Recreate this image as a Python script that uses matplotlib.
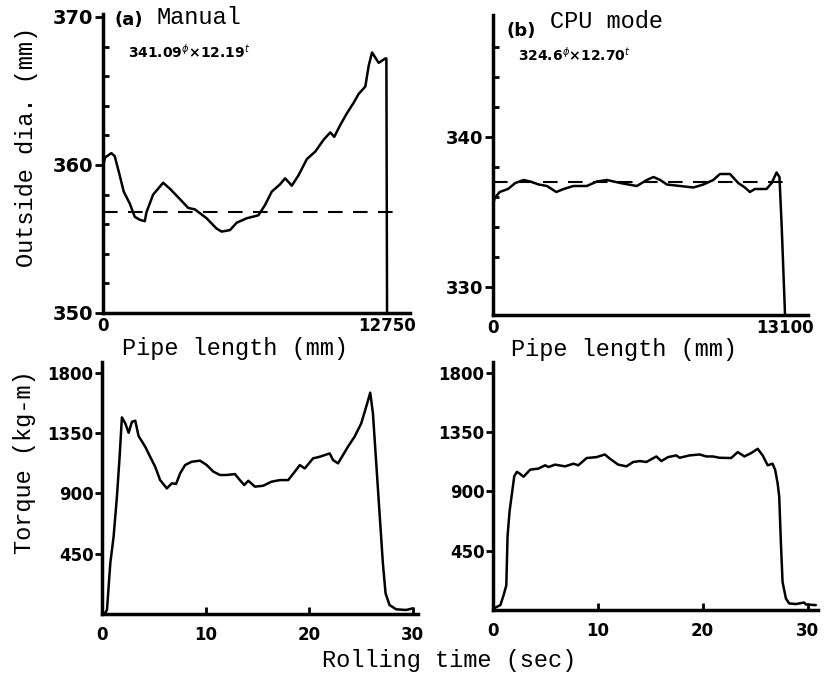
import matplotlib.pyplot as plt
from matplotlib.ticker import MultipleLocator, FixedLocator

# --- data ---
# (a) manual: outside diameter vs pipe length
manual_len = [0, 90, 375, 525, 750, 930, 1200, 1425, 1650, 1875, 1950, 2250, 2700, 3000,
              3450, 3825, 4125, 4650, 5100, 5325, 5700, 6000, 6450, 6975, 7275, 7575,
              7950, 8175, 8475, 8775, 9150, 9525, 9900, 10200, 10380, 10650, 10950,
              11250, 11475, 11775, 11925, 12075, 12375, 12675, 12720, 12750]
manual_dia = [359.9, 360.5, 360.8, 360.6, 359.3, 358.2, 357.4, 356.5, 356.3, 356.2, 356.8,
              358.0, 358.8, 358.4, 357.7, 357.1, 357.0, 356.4, 355.7, 355.5, 355.6, 356.1,
              356.4, 356.6, 357.3, 358.2, 358.7, 359.1, 358.6, 359.3, 360.4, 360.9, 361.7,
              362.2, 361.9, 362.7, 363.5, 364.2, 364.8, 365.3, 366.7, 367.6, 366.9, 367.2,
              367.2, 350.0]
manual_mean = 356.8

# (b) CPU mode: outside diameter vs pipe length
cpu_len = [0, 75, 300, 670, 1000, 1375, 1670, 2050, 2420, 2840, 3170, 3610, 4210, 4660,
           5110, 5710, 6450, 6900, 7200, 7500, 7800, 8390, 8990, 9440, 9880, 10180, 10630,
           11000, 11300, 11520, 11750, 12270, 12500, 12720, 12850, 12950, 13100]
cpu_dia = [335.4, 335.9, 336.3, 336.5, 336.9, 337.1, 337.0, 336.8, 336.7, 336.3, 336.5,
           336.7, 336.7, 337.0, 337.1, 336.9, 336.7, 337.1, 337.3, 337.1, 336.8, 336.7,
           336.6, 336.8, 337.1, 337.5, 337.5, 336.9, 336.6, 336.3, 336.5, 336.5, 336.9,
           337.6, 337.3, 334.0, 328.1]
cpu_mean = 337.0

# (a) manual: torque vs rolling time
manual_t = [0, 0.06, 0.32, 0.48, 0.80, 1.12, 1.44, 1.70, 1.92, 2.25, 2.57, 2.89, 3.21, 3.53,
            4.17, 4.65, 5.13, 5.61, 6.26, 6.74, 7.15, 7.54, 8.02, 8.66, 9.46, 10.11, 10.75,
            11.39, 12.03, 12.83, 13.31, 13.73, 14.12, 14.76, 15.56, 16.36, 17.16, 17.97,
            18.61, 19.09, 19.57, 20.37, 21.01, 21.98, 22.30, 22.78, 23.26, 23.74, 24.38,
            25.02, 25.5, 25.89, 26.15, 26.47, 26.79, 27.11, 27.37, 27.75, 28.39, 29.35, 29.99]
manual_torque = [0, 0, 10, 30, 378, 577, 875, 1173, 1467, 1422, 1352, 1434, 1442, 1328,
                 1248, 1173, 1099, 999, 937, 975, 970, 1049, 1111, 1136, 1144, 1111, 1062,
                 1037, 1037, 1044, 999, 962, 994, 950, 957, 987, 999, 999, 1062, 1111, 1086,
                 1161, 1173, 1198, 1148, 1124, 1186, 1248, 1323, 1422, 1546, 1651, 1497,
                 1124, 751, 378, 154, 67, 35, 30, 42]

# (b) CPU mode: torque vs rolling time
cpu_t = [0, 0.06, 0.70, 1.01, 1.27, 1.39, 1.58, 1.81, 2.03, 2.28, 2.53, 2.91, 3.55, 4.34,
         4.97, 5.29, 5.92, 6.87, 7.67, 8.14, 8.93, 9.88, 10.67, 11.15, 11.94, 12.73, 13.37,
         14.0, 14.63, 15.58, 16.06, 16.69, 17.48, 17.8, 18.75, 19.70, 20.34, 20.97, 21.6,
         22.71, 23.35, 23.98, 24.61, 25.25, 25.72, 26.2, 26.67, 26.92, 27.15, 27.3, 27.46,
         27.62, 27.94, 28.25, 28.89, 29.68, 29.84, 30.79]
cpu_torque = [0, 12, 37, 112, 187, 561, 748, 885, 1015, 1047, 1035, 1010, 1064, 1072, 1097,
              1084, 1102, 1089, 1109, 1097, 1152, 1159, 1179, 1147, 1102, 1089, 1122, 1129,
              1122, 1164, 1129, 1159, 1172, 1154, 1172, 1179, 1164, 1164, 1154, 1152, 1197,
              1164, 1189, 1222, 1172, 1097, 1109, 1060, 960, 860, 511, 212, 87, 50, 45, 57,
              42, 37]

W, H = 831, 679
fig = plt.figure(figsize=(W / 100, H / 100), dpi=100)

mono = 'Liberation Mono'
line_kw = dict(color='black', lw=1.8, solid_joinstyle='round', solid_capstyle='round')


def add_axes_px(x0, x1, y0, y1):
    ax = fig.add_axes([x0 / W, 1 - y1 / H, (x1 - x0) / W, (y1 - y0) / H])
    for s in ['top', 'right']:
        ax.spines[s].set_visible(False)
    for s in ['left', 'bottom']:
        ax.spines[s].set_linewidth(2.5)
    return ax


def tick_font(ax, size):
    for lab in ax.get_xticklabels() + ax.get_yticklabels():
        lab.set_fontweight('bold')
        lab.set_fontsize(size)


# top-left: manual diameter
ax1 = add_axes_px(103, 410, 14, 313)
ax1.plot(manual_len, manual_dia, **line_kw)
ax1.plot([0, 13050], [manual_mean, manual_mean], color='black', lw=1.5, dashes=(7, 5))
ax1.set_xlim(0, 13780)
ax1.set_ylim(350, 370.2)
ax1.set_yticks([350, 360, 370])
ax1.yaxis.set_minor_locator(MultipleLocator(2))
ax1.set_xticks([0, 12750])
ax1.tick_params(axis='y', which='major', direction='out', length=6, width=2, pad=1)
ax1.tick_params(axis='y', which='minor', direction='in', length=4, width=2)
ax1.tick_params(axis='x', length=0, pad=3)
tick_font(ax1, 14)
for lab in ax1.get_xticklabels():
    lab.set_fontsize(12)

# top-right: CPU diameter
ax2 = add_axes_px(493, 808, 15, 315)
ax2.plot(cpu_len, cpu_dia, **line_kw)
ax2.plot([0, 13000], [cpu_mean, cpu_mean], color='black', lw=1.5, dashes=(7, 5))
ax2.set_xlim(0, 14130)
ax2.set_ylim(328.1, 348.1)
ax2.set_yticks([330, 340])
ax2.yaxis.set_minor_locator(FixedLocator([332, 334, 336, 338, 342, 344, 346]))
ax2.set_xticks([0, 13100])
ax2.tick_params(axis='y', which='major', direction='out', length=6, width=2, pad=1)
ax2.tick_params(axis='y', which='minor', direction='in', length=4, width=2)
ax2.tick_params(axis='x', length=0, pad=3)
tick_font(ax2, 13)
for lab in ax2.get_xticklabels():
    lab.set_fontsize(12)

# bottom-left: manual torque
ax3 = add_axes_px(102, 418, 362, 614)
ax3.plot(manual_t, manual_torque, **line_kw)
ax3.set_xlim(0, 30.5)
ax3.set_ylim(0, 1880)
ax3.set_yticks([450, 900, 1350, 1800])
ax3.set_xticks([0, 10, 20, 30])
ax3.tick_params(axis='y', direction='out', length=5, width=2, pad=1)
ax3.tick_params(axis='x', direction='in', length=5, width=2, pad=9)
tick_font(ax3, 12)

# bottom-right: CPU torque
ax4 = add_axes_px(493, 818, 362, 610)
ax4.plot(cpu_t, cpu_torque, **line_kw)
ax4.set_xlim(0, 31)
ax4.set_ylim(0, 1880)
ax4.set_yticks([450, 900, 1350, 1800])
ax4.set_xticks([0, 10, 20, 30])
ax4.tick_params(axis='y', direction='out', length=5, width=2, pad=1)
ax4.tick_params(axis='x', direction='in', length=5, width=2, pad=9)
tick_font(ax4, 12)


def ftext(x, y, s, **kw):
    fig.text(x / W, 1 - y / H, s, **kw)


# panel titles and annotations
ftext(115, 20, '(a)', fontsize=13, fontweight='bold', va='center')
ftext(157, 18, 'Manual', family=mono, fontsize=17, va='center')
ftext(128, 52, r'341.09$^{\phi}$×12.19$^{t}$', fontsize=10, fontweight='bold', va='center')
ftext(506, 31, '(b)', fontsize=13, fontweight='bold', va='center')
ftext(550, 22, 'CPU mode', family=mono, fontsize=17, va='center')
ftext(518, 55, r'324.6$^{\phi}$×12.70$^{t}$', fontsize=10, fontweight='bold', va='center')

# axis labels
ftext(235, 349, 'Pipe length (mm)', family=mono, fontsize=17, ha='center', va='center')
ftext(624, 350, 'Pipe length (mm)', family=mono, fontsize=17, ha='center', va='center')
ftext(449, 660, 'Rolling time (sec)', family=mono, fontsize=17, ha='center', va='center')
ftext(27, 147, 'Outside dia. (mm)', family=mono, fontsize=17, ha='center', va='center',
      rotation=90)
ftext(25, 462, 'Torque (kg-m)', family=mono, fontsize=17, ha='center', va='center',
      rotation=90)

fig.savefig('out.png', dpi=100)
